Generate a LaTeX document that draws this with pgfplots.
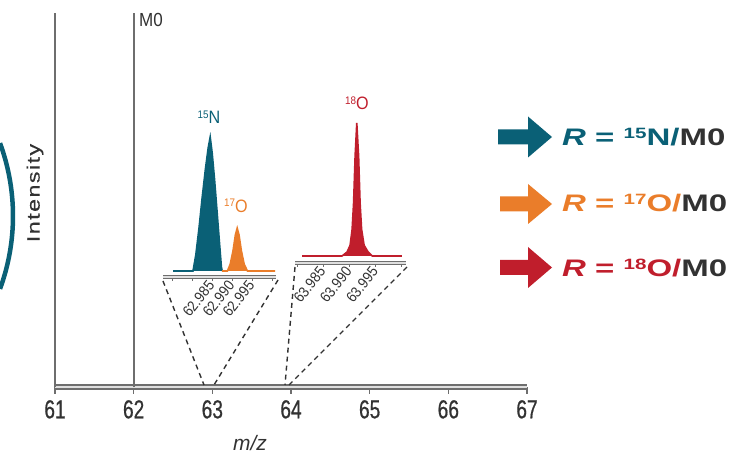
\documentclass[border=0pt]{standalone}
\usepackage{pgfplots}
\pgfplotsset{compat=1.18}
\usepackage{fontspec}
\setmainfont{Liberation Sans}
\newfontfamily\tickfamily[FakeStretch=0.74,FakeBold=0.6]{Liberation Sans}
\newfontfamily\insetfamily[FakeStretch=0.9]{Liberation Sans}
\newfontfamily\legfamily[FakeStretch=1.38]{Liberation Sans}
\newfontfamily\labfamily[FakeStretch=1.3,LetterSpace=8,FakeBold=0.5]{Liberation Sans}
\definecolor{myteal}{RGB}{10,96,118}
\definecolor{myorange}{RGB}{234,125,42}
\definecolor{myred}{RGB}{192,30,44}
\definecolor{axisgray}{RGB}{110,110,110}
\definecolor{textdark}{RGB}{50,50,50}
\newcommand{\iso}[3]{\raisebox{0.3em}{\fontsize{#1}{#1}\selectfont #2}#3}
\begin{document}
\begin{tikzpicture}
\path[use as bounding box] (-55bp,-69bp) rectangle (691bp,387bp);
% decorative arc at left edge
\draw[myteal, line width=4.5bp] (-253bp,171bp) ++(-20.2:211bp) arc[start angle=-20.2, end angle=20.2, radius=211bp];
% main axis
\begin{axis}[
  at={(0bp,0bp)}, anchor=south west,
  scale only axis, width=472bp, height=374bp,
  xmin=61, xmax=67, ymin=0, ymax=1,
  axis x line=bottom, axis y line=left,
  axis line style={-},
  x axis line style={draw=axisgray, line width=2bp, double=white!78!axisgray, double distance=1.6bp},
  y axis line style={draw=axisgray, line width=1.8bp},
  xtick={61,62,63,64,65,66,67}, ytick=\empty,
  tick align=outside, major tick length=7bp,
  xtick style={draw=axisgray, line width=1.3bp},
  xticklabel style={font=\tickfamily\fontsize{26}{26}\selectfont, text=textdark, inner sep=1bp, yshift=-5bp},
  /pgf/number format/assume math mode=true,
  clip=false,
]
\addplot[draw=axisgray, line width=1.8bp] coordinates {(62,0) (62,1)};
\end{axis}
% inset 1: 15N and 17O
\begin{axis}[
  at={(108bp,110bp)}, anchor=south west,
  scale only axis, width=113.2bp, height=140bp,
  xmin=62.9727, xmax=63.0010, ymin=-0.045, ymax=1,
  axis x line=bottom, axis y line=none,
  axis line style={-},
  x axis line style={draw=axisgray, line width=1.4bp, double=white!78!axisgray, double distance=1.1bp},
  xtick={62.975,62.980,62.985,62.990,62.995,63.000},
  xticklabels={,,62.985,62.990,62.995,},
  tick align=outside, major tick length=4bp,
  xtick style={draw=axisgray, line width=1bp},
  xticklabel style={rotate=52, anchor=east, font=\insetfamily\fontsize{15}{15}\selectfont, text=textdark, inner sep=1.5bp},
  clip=false,
]
\addplot[draw=myteal, fill=myteal, line width=1.6bp] coordinates {
  (62.97525,0) (62.9802,0) (62.9809,0.12) (62.9817,0.32) (62.9825,0.55)
  (62.9833,0.76) (62.9840,0.92) (62.9845,1.0) (62.9850,0.88) (62.9856,0.68)
  (62.9862,0.45) (62.9868,0.22) (62.9873,0.03) (62.9875,0)};
\addplot[draw=myorange, fill=myorange, line width=1.6bp] coordinates {
  (62.9875,0) (62.9888,0) (62.9895,0.05) (62.9902,0.15) (62.9908,0.27)
  (62.99125,0.32) (62.9917,0.27) (62.9923,0.15) (62.9930,0.05) (62.9938,0)
  (63.00075,0)};
\end{axis}
% inset 2: 18O
\begin{axis}[
  at={(240bp,124bp)}, anchor=south west,
  scale only axis, width=111.1bp, height=140bp,
  xmin=63.9796, xmax=64.0008, ymin=-0.053, ymax=1,
  axis x line=bottom, axis y line=none,
  axis line style={-},
  x axis line style={draw=axisgray, line width=1.4bp, double=white!78!axisgray, double distance=1.1bp},
  xtick={63.980,63.985,63.990,63.995,64.000},
  xticklabels={,63.985,63.990,63.995,},
  tick align=outside, major tick length=4bp,
  xtick style={draw=axisgray, line width=1bp},
  xticklabel style={rotate=52, anchor=east, font=\insetfamily\fontsize{15}{15}\selectfont, text=textdark, inner sep=1.5bp},
  clip=false,
]
\addplot[draw=myred, fill=myred, line width=1.6bp] coordinates {
  (63.98095,0) (63.98859,0) (63.98954,0.03) (63.99011,0.08) (63.99050,0.2)
  (63.99078,0.4) (63.99107,0.75) (63.99139,1.0) (63.99174,0.75) (63.99202,0.4)
  (63.99231,0.2) (63.99279,0.08) (63.99355,0.03) (63.99431,0) (64.0000,0)};
\end{axis}
% zoom guide lines
\draw[textdark, line width=1.4bp, dash pattern=on 5bp off 4bp] (108bp,106bp) -- (149bp,2bp);
\draw[textdark, line width=1.4bp, dash pattern=on 5bp off 4bp] (223bp,107bp) -- (159bp,2bp);
\draw[textdark, line width=1.4bp, dash pattern=on 5bp off 4bp] (240bp,120bp) -- (230bp,2bp);
\draw[textdark, line width=1.4bp, dash pattern=on 5bp off 4bp] (352bp,120bp) -- (234bp,2bp);
% labels
\node[rotate=90, text=textdark] at (-20bp,194bp) {\labfamily\fontsize{18}{18}\selectfont Intensity};
\node[text=textdark] at (195bp,-56bp) {\fontsize{21}{21}\selectfont\itshape m/z};
\node[text=textdark, anchor=west, inner sep=0pt] at (84bp,367bp) {\insetfamily\fontsize{19}{19}\selectfont M0};
\node[text=myteal] at (154bp,270bp) {\insetfamily\fontsize{18}{18}\selectfont\iso{11}{15}{N}};
\node[text=myorange] at (181bp,181bp) {\insetfamily\fontsize{18}{18}\selectfont\iso{11}{17}{O}};
\node[text=myred] at (302bp,284bp) {\insetfamily\fontsize{18}{18}\selectfont\iso{11}{18}{O}};
% legend arrows
\fill[myteal] (443bp,242.5bp) -- (473bp,242.5bp) -- (473bp,229.5bp) -- (497bp,250bp) -- (473bp,270.5bp) -- (473bp,257.5bp) -- (443bp,257.5bp) -- cycle;
\fill[myorange] (445bp,175.5bp) -- (473bp,175.5bp) -- (473bp,163bp) -- (497bp,183bp) -- (473bp,203bp) -- (473bp,190.5bp) -- (445bp,190.5bp) -- cycle;
\fill[myred] (445bp,112bp) -- (473bp,112bp) -- (473bp,99bp) -- (497bp,119.5bp) -- (473bp,140bp) -- (473bp,127bp) -- (445bp,127bp) -- cycle;
% legend text
\node[anchor=base west, inner sep=0pt] at (507bp,241bp) {\legfamily\bfseries\fontsize{24}{24}\selectfont\color{myteal}\textit{R} = \iso{15}{15}{N/}\color{textdark}M0};
\node[anchor=base west, inner sep=0pt] at (507bp,175bp) {\legfamily\bfseries\fontsize{24}{24}\selectfont\color{myorange}\textit{R} = \iso{15}{17}{O/}\color{textdark}M0};
\node[anchor=base west, inner sep=0pt] at (507bp,110bp) {\legfamily\bfseries\fontsize{24}{24}\selectfont\color{myred}\textit{R} = \iso{15}{18}{O/}\color{textdark}M0};
\end{tikzpicture}
\end{document}
